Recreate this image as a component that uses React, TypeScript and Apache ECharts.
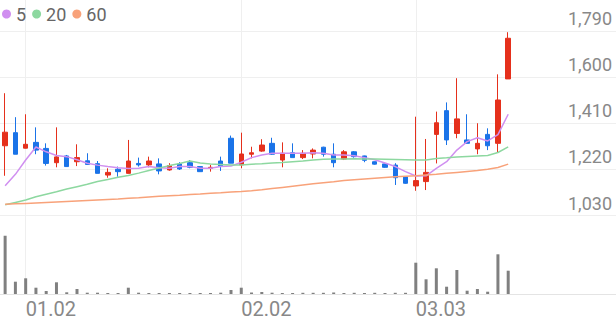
import React, { useEffect, useRef } from 'react';
import * as echarts from 'echarts';

const dates = [
  '12.29', '12.30', '01.02', '01.05', '01.06', '01.07', '01.08', '01.09', '01.12', '01.13',
  '01.14', '01.15', '01.16', '01.19', '01.20', '01.21', '01.22', '01.23', '01.26', '01.27',
  '01.28', '01.29', '01.30', '02.02', '02.03', '02.04', '02.05', '02.06', '02.09', '02.10',
  '02.11', '02.12', '02.13', '02.19', '02.20', '02.23', '02.24', '02.25', '02.26', '02.27',
  '03.03', '03.04', '03.05', '03.06', '03.09', '03.10', '03.11', '03.12', '03.13', '03.16',
];
const labeledDates = ['01.02', '02.02', '03.03'];

const opens = [
  1316, 1370, 1306, 1330, 1305, 1246, 1274, 1250, 1254, 1242,
  1195, 1219, 1202, 1243, 1237, 1241, 1216, 1241, 1246, 1230,
  1223, 1253, 1347, 1237, 1281, 1294, 1326, 1257, 1287, 1267,
  1282, 1310, 1281, 1261, 1291, 1274, 1250, 1241, 1236, 1188,
  1150, 1168, 1363, 1461, 1367, 1340, 1303, 1363, 1326, 1592,
];
const closes = [
  1372, 1281, 1322, 1298, 1243, 1270, 1230, 1267, 1239, 1202,
  1206, 1209, 1253, 1237, 1253, 1212, 1234, 1220, 1227, 1209,
  1227, 1232, 1244, 1282, 1287, 1319, 1281, 1285, 1267, 1285,
  1298, 1281, 1246, 1291, 1271, 1256, 1240, 1227, 1184, 1161,
  1172, 1206, 1411, 1340, 1427, 1326, 1326, 1316, 1505, 1760,
];
const lows = [
  1192, 1281, 1305, 1281, 1234, 1227, 1230, 1232, 1239, 1202,
  1184, 1188, 1202, 1230, 1227, 1198, 1213, 1216, 1223, 1209,
  1209, 1212, 1244, 1223, 1264, 1291, 1278, 1227, 1267, 1261,
  1264, 1271, 1227, 1257, 1267, 1248, 1238, 1225, 1154, 1159,
  1130, 1133, 1243, 1319, 1347, 1326, 1281, 1298, 1289, 1592,
];
const highs = [
  1533, 1434, 1446, 1392, 1326, 1392, 1278, 1322, 1285, 1253,
  1223, 1230, 1340, 1267, 1271, 1264, 1244, 1248, 1257, 1230,
  1237, 1271, 1358, 1370, 1312, 1343, 1349, 1330, 1326, 1298,
  1305, 1312, 1326, 1298, 1294, 1275, 1251, 1242, 1244, 1190,
  1436, 1344, 1457, 1495, 1595, 1446, 1409, 1388, 1611, 1785,
];
const ma5 = [
  1151, 1198, 1257, 1311, 1291, 1276, 1271, 1258, 1244, 1236,
  1230, 1225, 1222, 1223, 1230, 1225, 1223, 1230, 1230, 1223,
  1223, 1230, 1232, 1248, 1267, 1278, 1285, 1285, 1285, 1285,
  1287, 1285, 1278, 1278, 1275, 1267, 1258, 1245, 1230, 1209,
  1191, 1192, 1223, 1250, 1298, 1333, 1349, 1336, 1362, 1446,
];
const ma20 = [
  1072, 1082, 1092, 1105, 1116, 1126, 1137, 1147, 1157, 1168,
  1177, 1186, 1193, 1203, 1214, 1224, 1234, 1243, 1253, 1245,
  1241, 1239, 1237, 1237, 1240, 1242, 1245, 1247, 1250, 1253,
  1257, 1260, 1261, 1261, 1262, 1261, 1261, 1260, 1259, 1258,
  1257, 1257, 1263, 1266, 1270, 1272, 1274, 1276, 1288, 1311,
];
const ma60 = [
  1074, 1076, 1078, 1080, 1082, 1084, 1086, 1088, 1090, 1092,
  1094, 1096, 1099, 1101, 1104, 1107, 1110, 1112, 1115, 1117,
  1120, 1122, 1125, 1127, 1130, 1134, 1139, 1144, 1149, 1154,
  1159, 1163, 1167, 1172, 1176, 1179, 1182, 1185, 1188, 1190,
  1192, 1195, 1198, 1202, 1206, 1210, 1214, 1219, 1226, 1240,
];
const volumes = [
  583, 123, 157, 63, 30, 117, 17, 50, 13, 13,
  10, 10, 63, 13, 10, 10, 10, 10, 10, 10,
  10, 13, 40, 63, 15, 20, 13, 10, 10, 12,
  12, 12, 15, 10, 12, 10, 12, 10, 12, 12,
  313, 147, 257, 73, 240, 33, 50, 23, 397, 233,
];
const yTicks = [1030, 1220, 1410, 1600, 1790];
const yTop = 1918;
const volMax = 790;
const emptySlots = 10;

const UP = '#e5301c';
const DOWN = '#1a73e8';
const GRID = '#efefef';

export default function App() {
  const ref = useRef<HTMLDivElement>(null);
  useEffect(() => {
    const chart = echarts.init(ref.current!, null, { renderer: 'svg' });
    const cats = dates.concat(Array.from({ length: emptySlots }, () => ''));
    const candleData = dates.map((_, i) => [opens[i], closes[i], lows[i], highs[i]]);
    const isLabeled = (i: number) => labeledDates.includes(cats[i]);
    const vSplit = {
      show: true,
      interval: (i: number) => isLabeled(i),
      alignWithLabel: true,
      lineStyle: { color: GRID, width: 1 },
    };
    chart.setOption({
      animation: false,
      backgroundColor: '#fff',
      textStyle: { fontFamily: 'Roboto' },
      legend: {
        data: ['5', '20', '60'],
        left: 2,
        top: 5,
        padding: 0,
        icon: 'circle',
        itemWidth: 9,
        itemHeight: 9,
        itemGap: 6,
        textStyle: { fontSize: 18, color: '#666', fontFamily: 'Roboto' },
      },
      grid: [
        { left: 0, right: 0, top: 0, height: 215 },
        { left: 0, right: 0, top: 215, height: 79 },
      ],
      xAxis: [
        {
          type: 'category',
          gridIndex: 0,
          data: cats,
          boundaryGap: true,
          axisLine: { show: false },
          axisTick: { show: false },
          axisLabel: { show: false },
          splitLine: vSplit,
        },
        {
          type: 'category',
          gridIndex: 1,
          data: cats,
          boundaryGap: true,
          axisLine: { show: true, lineStyle: { color: '#e4e4e4' } },
          axisTick: { show: false },
          axisLabel: {
            interval: (i: number) => isLabeled(i),
            align: 'left',
            fontSize: 20,
            color: '#888',
            margin: 5,
            fontFamily: 'Roboto',
          },
          splitLine: vSplit,
        },
      ],
      yAxis: [
        {
          type: 'value',
          gridIndex: 0,
          position: 'right',
          min: yTicks[0],
          max: yTop,
          interval: yTicks[1] - yTicks[0],
          axisLine: { show: false },
          axisTick: { show: false },
          axisLabel: {
            inside: true,
            margin: 4,
            fontSize: 18,
            color: '#888',
            verticalAlign: 'bottom',
            padding: [0, 0, 3, 0],
            showMaxLabel: false,
            fontFamily: 'Roboto',
            formatter: (v: number) => (yTicks.includes(v) ? v.toLocaleString('en-US') : ''),
          },
          splitLine: { show: true, showMaxLine: false, lineStyle: { color: GRID } },
        },
        { type: 'value', gridIndex: 1, min: 0, max: volMax, show: false },
      ],
      series: [
        {
          name: 'price',
          type: 'candlestick',
          xAxisIndex: 0,
          yAxisIndex: 0,
          data: candleData,
          barWidth: 5,
          itemStyle: { color: UP, color0: DOWN, borderColor: UP, borderColor0: DOWN, borderWidth: 1 },
        },
        {
          name: '5', type: 'line', data: ma5, symbol: 'none', xAxisIndex: 0, yAxisIndex: 0,
          itemStyle: { color: '#d08ff0' }, lineStyle: { color: '#d08ff0', width: 1.5 },
        },
        {
          name: '20', type: 'line', data: ma20, symbol: 'none', xAxisIndex: 0, yAxisIndex: 0,
          itemStyle: { color: '#8dd8a0' }, lineStyle: { color: '#8dd8a0', width: 1.5 },
        },
        {
          name: '60', type: 'line', data: ma60, symbol: 'none', xAxisIndex: 0, yAxisIndex: 0,
          itemStyle: { color: '#f8a27a' }, lineStyle: { color: '#f8a27a', width: 1.5 },
        },
        {
          name: 'volume',
          type: 'bar',
          xAxisIndex: 1,
          yAxisIndex: 1,
          data: volumes,
          barWidth: 3,
          itemStyle: { color: '#808080' },
        },
      ],
    });
    return () => chart.dispose();
  }, []);
  return (
    <div
      ref={ref}
      style={{ position: 'fixed', left: 0, top: 0, width: 616, height: 321, background: '#fff' }}
    />
  );
}
